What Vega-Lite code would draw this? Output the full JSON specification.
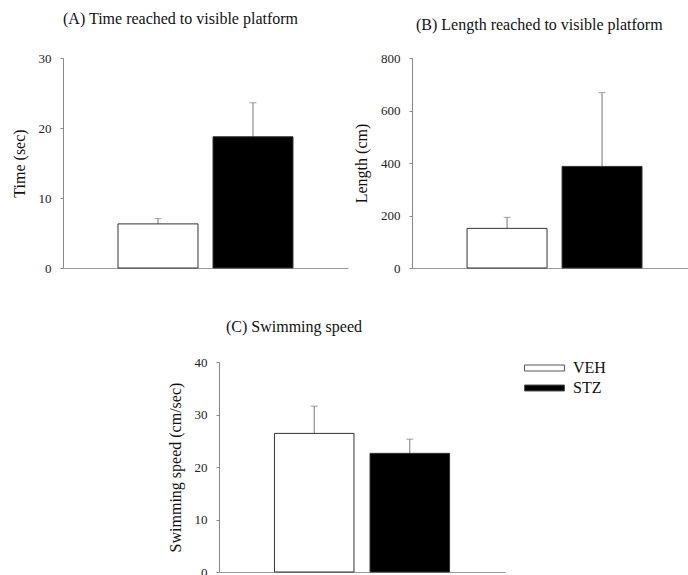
{
  "$schema": "https://vega.github.io/schema/vega-lite/v6.json",
  "padding": {"left": 11, "top": 11, "right": 0, "bottom": 0},
  "background": "white",
  "config": {
    "font": "Liberation Serif",
    "view": {"stroke": null},
    "axisY": {"domainColor": "#888", "tickColor": "#888", "tickSize": 3, "labelFont": "Liberation Serif", "labelFontSize": 13, "labelColor": "#222", "labelPadding": 9, "titleFont": "Liberation Serif", "titleFontSize": 16, "titleFontWeight": "normal", "titleColor": "#111", "titlePadding": 11, "grid": false},
    "axisX": {"domainColor": "#999", "ticks": false, "labels": false, "title": null, "grid": false},
    "title": {"font": "Liberation Serif", "fontSize": 16, "fontWeight": "normal", "anchor": "start", "color": "#111", "baseline": "alphabetic", "frame": "group"},
    "legend": {"labelFont": "Liberation Serif", "labelFontSize": 16, "labelColor": "#111"}
  },
  "data": {"values": [
    {"panel": "A", "group": "VEH", "mean": 6.3, "upper": 7.05},
    {"panel": "A", "group": "STZ", "mean": 18.75, "upper": 23.6},
    {"panel": "B", "group": "VEH", "mean": 151, "upper": 193},
    {"panel": "B", "group": "STZ", "mean": 387, "upper": 668},
    {"panel": "C", "group": "VEH", "mean": 26.4, "upper": 31.6},
    {"panel": "C", "group": "STZ", "mean": 22.6, "upper": 25.3}
  ]},
  "spacing": 44,
  "resolve": {"scale": {"fill": "independent"}},
  "vconcat": [
    {
      "bounds": "flush",
      "spacing": 64,
      "resolve": {"scale": {"fill": "independent"}},
      "hconcat": [
        {
          "width": 285, "height": 210,
          "title": {"text": "(A) Time reached to visible platform", "offset": 25},
          "transform": [{"filter": "datum.panel === 'A'"}],
          "encoding": {
            "x": {"field": "group", "type": "nominal", "sort": ["VEH", "STZ"], "scale": {"paddingInner": 0.158, "paddingOuter": 0.579}, "axis": {"title": null}},
            "y": {"type": "quantitative", "scale": {"domain": [0, 30], "nice": false}, "axis": {"values": [0, 10, 20, 30], "title": "Time (sec)"}}
          },
          "layer": [
            {"mark": {"type": "rule", "color": "#777", "strokeWidth": 1}, "encoding": {"y": {"field": "mean", "type": "quantitative"}, "y2": {"field": "upper"}}},
            {"mark": {"type": "tick", "color": "#777", "thickness": 1, "size": 7}, "encoding": {"y": {"field": "upper", "type": "quantitative"}}},
            {"mark": {"type": "bar", "stroke": "#333", "strokeWidth": 1}, "encoding": {"y": {"field": "mean", "type": "quantitative"}, "fill": {"field": "group", "type": "nominal", "sort": ["VEH", "STZ"], "scale": {"domain": ["VEH", "STZ"], "range": ["white", "black"]}, "legend": null}}}
          ]
        },
        {
          "width": 276, "height": 210,
          "title": {"text": "(B) Length reached to visible platform", "offset": 19.5, "dx": 4},
          "transform": [{"filter": "datum.panel === 'B'"}],
          "encoding": {
            "x": {"field": "group", "type": "nominal", "sort": ["VEH", "STZ"], "scale": {"paddingInner": 0.158, "paddingOuter": 0.532, "align": 0.545}, "axis": {"title": null}},
            "y": {"type": "quantitative", "scale": {"domain": [0, 800], "nice": false}, "axis": {"values": [0, 200, 400, 600, 800], "title": "Length (cm)"}}
          },
          "layer": [
            {"mark": {"type": "rule", "color": "#777", "strokeWidth": 1}, "encoding": {"y": {"field": "mean", "type": "quantitative"}, "y2": {"field": "upper"}}},
            {"mark": {"type": "tick", "color": "#777", "thickness": 1, "size": 7}, "encoding": {"y": {"field": "upper", "type": "quantitative"}}},
            {"mark": {"type": "bar", "stroke": "#333", "strokeWidth": 1}, "encoding": {"y": {"field": "mean", "type": "quantitative"}, "fill": {"field": "group", "type": "nominal", "sort": ["VEH", "STZ"], "scale": {"domain": ["VEH", "STZ"], "range": ["white", "black"]}, "legend": null}}}
          ]
        }
      ]
    },
    {
      "bounds": "flush",
      "spacing": 10,
      "hconcat": [
        {
          "width": 146, "height": 210,
          "data": {"values": [{"blank": 0}]},
          "mark": {"type": "point", "opacity": 0},
          "encoding": {}
        },
        {
          "width": 286, "height": 210,
          "title": {"text": "(C) Swimming speed", "offset": 21, "dx": 7},
          "transform": [{"filter": "datum.panel === 'C'"}],
          "encoding": {
            "x": {"field": "group", "type": "nominal", "sort": ["VEH", "STZ"], "scale": {"paddingInner": 0.168, "paddingOuter": 0.58}, "axis": {"title": null}},
            "y": {"type": "quantitative", "scale": {"domain": [0, 40], "nice": false}, "axis": {"values": [0, 10, 20, 30, 40], "title": "Swimming speed (cm/sec)"}}
          },
          "layer": [
            {"mark": {"type": "rule", "color": "#777", "strokeWidth": 1}, "encoding": {"y": {"field": "mean", "type": "quantitative"}, "y2": {"field": "upper"}}},
            {"mark": {"type": "tick", "color": "#777", "thickness": 1, "size": 7}, "encoding": {"y": {"field": "upper", "type": "quantitative"}}},
            {"mark": {"type": "bar", "stroke": "#333", "strokeWidth": 1}, "encoding": {"y": {"field": "mean", "type": "quantitative"}, "fill": {"field": "group", "type": "nominal", "sort": ["VEH", "STZ"], "scale": {"domain": ["VEH", "STZ"], "range": ["white", "black"]}, "legend": {"title": null, "orient": "none", "legendX": 461, "legendY": -2, "symbolType": "M-1,-0.15H1V0.15H-1Z", "symbolSize": 1600, "symbolStrokeColor": "#555", "symbolStrokeWidth": 1, "clipHeight": 16, "rowPadding": 4, "labelOffset": 8, "padding": 0}}}}
          ]
        }
      ]
    }
  ]
}
